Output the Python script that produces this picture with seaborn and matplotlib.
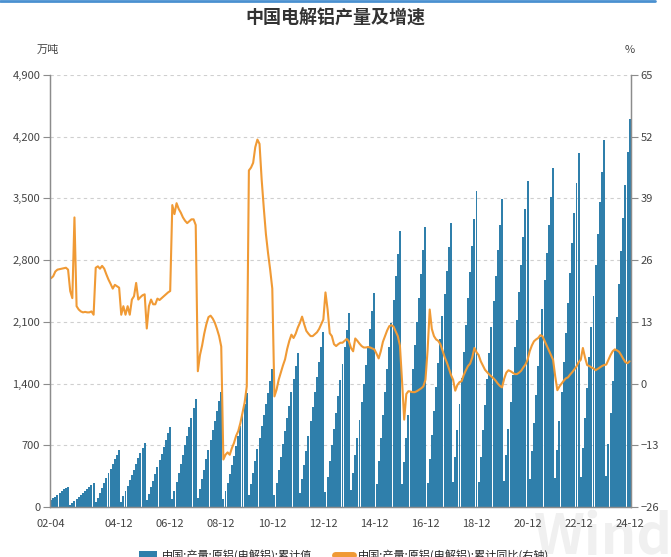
import numpy as np
import pandas as pd
import matplotlib
matplotlib.use("Agg")
import matplotlib.pyplot as plt
import seaborn as sns
from matplotlib.patches import Patch
from matplotlib.lines import Line2D
from matplotlib.ticker import FuncFormatter

# 月度累计产量（万吨），2002-04 ~ 2024-12，每行一年
output_cum = [
    80, 100, 115, 135, 160, 180, 200, 215, 230,                           # 2002 (4-12月)
    20, 45, 65, 90, 110, 135, 160, 180, 205, 225, 250, 272,               # 2003
    55, 105, 160, 215, 270, 325, 380, 435, 490, 540, 595, 647,            # 2004
    60, 120, 180, 240, 305, 365, 425, 485, 550, 610, 670, 730,            # 2005
    75, 145, 225, 300, 375, 450, 530, 600, 680, 755, 835, 911,            # 2006
    95, 185, 285, 385, 490, 595, 700, 805, 910, 1015, 1120, 1225,         # 2007
    105, 205, 315, 425, 540, 650, 760, 870, 980, 1090, 1200, 1305,        # 2008
    90, 180, 275, 375, 475, 580, 690, 800, 915, 1040, 1165, 1290,         # 2009
    135, 260, 390, 520, 655, 785, 915, 1045, 1170, 1295, 1430, 1562,      # 2010
    140, 275, 420, 565, 710, 860, 1005, 1150, 1300, 1450, 1600, 1750,     # 2011
    160, 315, 480, 640, 805, 970, 1135, 1305, 1470, 1640, 1810, 1982,     # 2012
    175, 345, 525, 705, 890, 1070, 1255, 1440, 1625, 1815, 2005, 2197,    # 2013
    195, 385, 585, 785, 990, 1190, 1395, 1605, 1810, 2015, 2220, 2431,    # 2014
    260, 520, 780, 1040, 1300, 1560, 1820, 2090, 2350, 2615, 2875, 3135,  # 2015
    260, 510, 780, 1040, 1305, 1565, 1835, 2100, 2370, 2640, 2910, 3180,  # 2016
    270, 540, 820, 1090, 1360, 1630, 1900, 2170, 2420, 2680, 2950, 3225,  # 2017
    285, 570, 870, 1165, 1460, 1760, 2065, 2370, 2665, 2965, 3270, 3580,  # 2018
    285, 570, 870, 1160, 1455, 1750, 2040, 2335, 2625, 2915, 3200, 3494,  # 2019
    295, 590, 890, 1190, 1500, 1810, 2125, 2440, 2750, 3065, 3380, 3699,  # 2020
    315, 635, 955, 1275, 1600, 1925, 2250, 2570, 2880, 3195, 3515, 3850,  # 2021
    325, 645, 975, 1305, 1640, 1975, 2315, 2655, 2990, 3330, 3670, 4021,  # 2022
    335, 670, 1010, 1355, 1700, 2045, 2395, 2745, 3100, 3455, 3800, 4159, # 2023
    355, 710, 1070, 1430, 1795, 2160, 2530, 2905, 3280, 3655, 4030, 4400, # 2024
]

# 累计同比（%），右轴
yoy_cum = [
    22.2, 22.6, 23.6, 24.0, 24.1, 24.2, 24.3, 24.4, 24.0,                 # 2002
    19.5, 18.0, 35.0, 16.3, 15.6, 15.2, 15.0, 15.1, 15.0, 15.0, 15.2, 14.5,
    24.4, 24.7, 24.2, 24.8, 24.2, 23.0, 21.9, 21.0, 20.0, 20.8, 20.5, 20.2,
    14.5, 16.3, 14.5, 16.3, 14.5, 17.7, 18.4, 21.2, 17.7, 18.2, 18.6, 18.8,
    11.6, 16.3, 17.7, 16.7, 16.7, 17.9, 17.6, 18.0, 18.4, 18.8, 19.2, 19.5,
    37.6, 35.7, 38.0, 36.8, 36.0, 35.0, 34.3, 33.8, 34.2, 34.6, 34.6, 33.4,
    2.6, 6.0, 8.0, 10.5, 12.5, 14.0, 14.3, 13.7, 12.8, 11.5, 10.0, 7.8,
    -16.0, -15.0, -14.5, -15.0, -13.6, -12.5, -11.0, -10.0, -8.3, -6.2, -4.0, -0.6,
    44.9, 45.5, 46.5, 49.8, 51.4, 50.5, 43.0, 37.0, 31.5, 27.5, 24.0, 20.0,
    -2.7, -1.3, 0.8, 2.3, 3.8, 5.1, 7.3, 9.0, 10.3, 9.6, 10.5, 11.8,
    12.8, 14.1, 12.5, 11.1, 10.5, 10.0, 10.0, 10.4, 10.8, 11.5, 12.5, 13.5,
    19.2, 15.6, 10.6, 10.0, 8.3, 7.9, 8.3, 8.6, 8.6, 9.0, 9.4, 8.9,
    7.5, 6.8, 9.5, 9.0, 8.4, 7.9, 7.6, 7.6, 7.7, 7.6, 7.4, 7.2,
    6.3, 5.3, 6.8, 8.8, 10.0, 11.2, 12.1, 12.3, 12.0, 11.0, 10.0, 8.0,
    0.5, -7.6, -2.2, -1.6, -1.7, -1.8, -1.8, -1.6, -1.3, -1.0, -0.6, 0.8,
    7.0, 15.6, 11.5, 10.0, 9.3, 9.0, 8.3, 7.0, 5.6, 4.5, 3.2, 1.8,
    0.8, -1.5, -0.3, 0.3, 0.5, 1.8, 2.8, 3.7, 4.2, 5.5, 7.5, 6.6,
    6.0, 4.7, 3.8, 2.9, 2.4, 1.9, 1.5, 1.1, 0.6, 0.0, -0.5, -0.8,
    1.0, 2.3, 2.8, 2.6, 2.3, 2.0, 2.0, 2.3, 2.7, 3.4, 4.0, 5.0,
    6.8, 8.0, 8.9, 9.3, 9.6, 10.2, 10.0, 9.0, 8.0, 7.0, 6.0, 5.0,
    1.5, -1.4, -0.6, 0.0, 0.6, 1.1, 1.3, 1.9, 2.4, 3.0, 3.6, 4.5,
    5.0, 7.5, 5.5, 3.9, 3.7, 3.4, 3.2, 2.8, 3.1, 3.4, 3.7, 3.9,
    4.0, 5.0, 6.0, 6.8, 7.2, 7.0, 6.7, 6.0, 5.2, 4.5, 4.3, 4.7,
]

tick_labels = ["02-04", "04-12", "06-12", "08-12", "10-12", "12-12",
               "14-12", "16-12", "18-12", "20-12", "22-12", "24-12"]

label_bar = "中国:产量:原铝(电解铝):累计值"
label_line = "中国:产量:原铝(电解铝):累计同比(右轴)"

BLUE = "#2f7fab"
ORANGE = "#f09a35"
GRID = "#cfcfcf"
SPINE = "#8c8c8c"

months = pd.date_range("2002-04-01", "2024-12-01", freq="MS")
df = pd.DataFrame({
    "month": months.strftime("%y-%m"),
    "output": output_cum,
    "yoy": yoy_cum,
})
df["pos"] = np.arange(len(df))

sns.set_theme(style="white")
plt.rcParams["font.family"] = ["Noto Sans CJK SC", "DejaVu Sans"]

fig = plt.figure(figsize=(6.71, 5.57), dpi=100)

# 水印放在坐标区下面
fig.text(0.90, 0.035, "Wind", ha="center", va="center", fontsize=40,
         fontweight="bold", color="#f0f0f0", zorder=-5)

ax = fig.add_axes([0.0745, 0.0898, 0.8655, 0.7755])
ax.patch.set_alpha(0)

sns.barplot(data=df, x="pos", y="output", color=BLUE, width=0.92,
            linewidth=0, saturation=1, ax=ax)
ax.set_axisbelow(True)
ax.grid(axis="y", linestyle=(0, (3, 3)), color=GRID, linewidth=0.8)

ax2 = ax.twinx()
sns.lineplot(data=df, x="pos", y="yoy", color=ORANGE, linewidth=1.5, ax=ax2)

ax.set_xlim(-0.5, len(df) - 0.5)
ax.set_ylim(0, 4900)
ax.set_yticks(range(0, 4901, 700))
ax.yaxis.set_major_formatter(FuncFormatter(lambda v, _: f"{v:,.0f}"))
ax2.set_ylim(-26, 65)
ax2.set_yticks(range(-26, 66, 13))

tick_pos = [int(df.index[df["month"] == t][0]) for t in tick_labels]
ax.set_xticks(tick_pos)
ax.set_xticklabels(tick_labels)

for a in (ax, ax2):
    a.set_xlabel("")
    a.set_ylabel("")
    a.spines["top"].set_visible(False)
    for s in ("left", "right", "bottom"):
        a.spines[s].set_color(SPINE)
        a.spines[s].set_linewidth(0.9)
    a.tick_params(axis="both", direction="out", length=5, width=0.8,
                  color=SPINE, labelsize=8, labelcolor="#444444", pad=2)
ax.tick_params(axis="x", pad=4)

fig.text(0.5, 0.967, "中国电解铝产量及增速", ha="center", va="center",
         fontsize=13, fontweight="bold", color="#333333")
fig.text(0.072, 0.910, "万吨", ha="center", va="center", fontsize=8, color="#444444")
fig.text(0.939, 0.910, "%", ha="center", va="center", fontsize=8, color="#444444")

fig.add_artist(Line2D([0, 0.976], [0.998, 0.998], color="#4a90d0", lw=2,
                      transform=fig.transFigure))

handles = [Patch(facecolor=BLUE, edgecolor="none"),
           Line2D([0], [0], color=ORANGE, lw=5)]
fig.legend(handles, [label_bar, label_line], loc="center",
           bbox_to_anchor=(0.513, 0.004), ncol=2, frameon=False, fontsize=8,
           handlelength=1.6, columnspacing=2.0, handletextpad=0.5)

fig.savefig("out.png", dpi=100)
